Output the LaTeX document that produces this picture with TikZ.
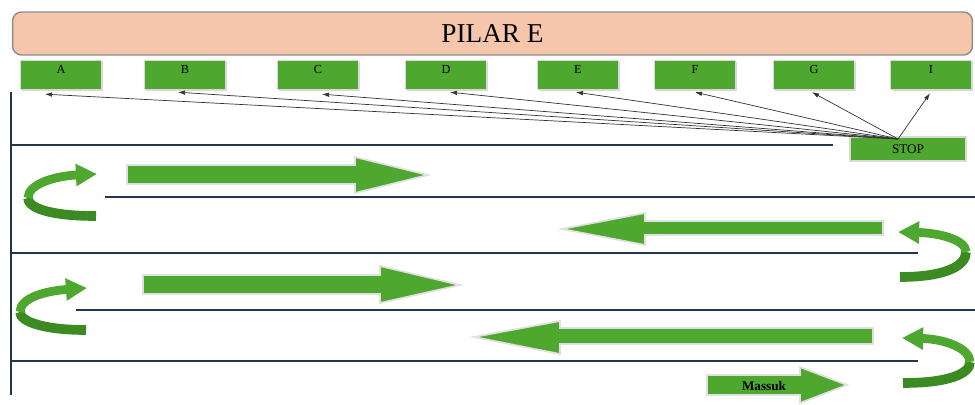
\documentclass[tikz,border=0pt]{standalone}
\usepackage{fontspec}
\setmainfont{Liberation Serif}
\usepackage[HTML]{xcolor}
\usetikzlibrary{positioning, arrows, arrows.meta, shadows}

\definecolor{boxgreen}{HTML}{4EA72E}
\definecolor{darkgreen}{HTML}{3B8A22}
\definecolor{peach}{HTML}{F5C6AB}
\definecolor{navy}{HTML}{1F3550}

\tikzset{
  letterbox/.style={draw=black!15, line width=0.8pt, fill=boxgreen, minimum width=46pt, minimum height=16.5pt,
    inner sep=0pt, font=\fontsize{7}{8}\selectfont, text height=7.5pt, text depth=9pt,
    drop shadow={shadow xshift=0.8pt, shadow yshift=-0.8pt, fill=black!30, opacity=0.5}},
  stopbox/.style={letterbox, minimum width=66pt, minimum height=13.5pt, font=\fontsize{7.5}{8}\selectfont,
    text height=5pt, text depth=0pt},
  fanarrow/.style={-{Latex[length=4pt,width=2.6pt]}, line width=0.4pt, black!80},
  lane/.style={navy, line width=1.2pt},
  bigarrow/.style={fill=boxgreen, draw=black!12, line width=1pt},
  turnlow/.style={darkgreen, line width=5.5pt},
  turnup/.style={boxgreen, line width=5pt, -{Triangle[length=12pt,width=12pt]}},
}

\begin{document}
\begin{tikzpicture}[x=0.02cm, y=-0.02cm]
\useasboundingbox (0,0) rectangle (975,405);

% title
\node[draw=black!45, line width=0.8pt, fill=peach, rounded corners=5pt, minimum width=19.2cm, minimum height=0.86cm,
  font=\fontsize{15.5}{18}\selectfont] (pilar) at (492.5,33.5) {PILAR E};

% gates
\node[letterbox] (a) at (61,75) {A};
\node[letterbox] (b) at (185,75) {B};
\node[letterbox] (c) at (318,75) {C};
\node[letterbox] (d) at (446,75) {D};
\node[letterbox] (e) at (578,75) {E};
\node[letterbox] (f) at (695,75) {F};
\node[letterbox] (g) at (814,75) {G};
\node[letterbox] (i) at (931,75) {I};

\node[stopbox] (stop) at (908,149) {STOP};
\coordinate (fan) at (898,139);

\draw[fanarrow] (fan) -- ([shift={(-16,4)}]a.south);
\draw[fanarrow] (fan) -- ([shift={(-7,2)}]b.south);
\draw[fanarrow] (fan) -- ([shift={(4,4)}]c.south);
\draw[fanarrow] (fan) -- ([shift={(4,2)}]d.south);
\draw[fanarrow] (fan) -- ([shift={(-2,2)}]e.south);
\draw[fanarrow] (fan) -- ([shift={(0,2)}]f.south);
\draw[fanarrow] (fan) -- ([shift={(-2,2)}]g.south);
\draw[fanarrow] (fan) -- ([shift={(-1,3)}]i.south);

% lanes
\draw[navy, line width=1.7pt] (11,92) -- (11,395);
\draw[lane] (11,145) -- (833,145);
\draw[lane] (105,197) -- (975,197);
\draw[lane] (11,253) -- (918,253);
\draw[lane] (76,310) -- (975,310);
\draw[lane] (11,361) -- (918,361);

% driving direction
\draw[bigarrow] (127,165) -- (355,165) -- (355,157) -- (428,175) -- (355,193) -- (355,184) -- (127,184) -- cycle;
\draw[bigarrow] (883,221) -- (645,221) -- (645,213) -- (562,229) -- (645,245) -- (645,235) -- (883,235) -- cycle;
\draw[bigarrow] (143,275) -- (380,275) -- (380,266) -- (460,285) -- (380,303) -- (380,294) -- (143,294) -- cycle;
\draw[bigarrow] (873,328) -- (560,328) -- (560,321) -- (474,337) -- (560,354) -- (560,344) -- (873,344) -- cycle;
\draw[bigarrow] (707,375) -- (800,375) -- (800,367) -- (847,385) -- (800,403) -- (800,395) -- (707,395) -- cycle;
\node[font=\bfseries\fontsize{7.5}{8}\selectfont] (massuk) at (764,386) {Massuk};

% u-turns
\draw[turnlow] (96,216) .. controls (50,216) and (28,208) .. (28,198);
\draw[turnup] (28,198) .. controls (28,184) and (55,176) .. (97,174);
\draw[turnlow] (86,330) .. controls (45,330) and (20,322) .. (20,312);
\draw[turnup] (20,312) .. controls (20,298) and (45,291) .. (87,288);
\draw[turnlow] (900,277) .. controls (945,277) and (966,266) .. (966,252);
\draw[turnup] (966,252) .. controls (966,240) and (940,233) .. (898,232);
\draw[turnlow] (903,383) .. controls (948,383) and (970,374) .. (970,362);
\draw[turnup] (970,362) .. controls (970,348) and (944,339) .. (902,338);
\end{tikzpicture}
\end{document}
